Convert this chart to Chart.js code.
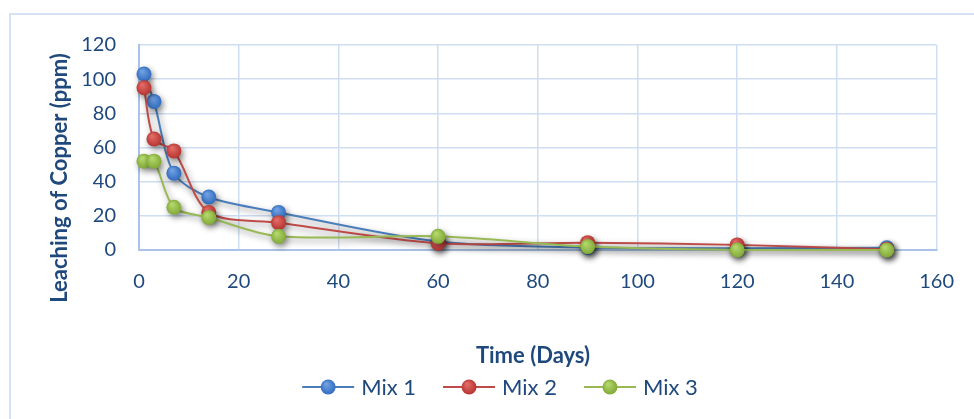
<!DOCTYPE html>
<html>
<head>
<meta charset="utf-8">
<script src="https://cdn.jsdelivr.net/npm/chart.js@4/dist/chart.umd.min.js"></script>
<style>
  html, body { margin: 0; padding: 0; background: #ffffff; }
  #wrap { width: 974px; height: 419px; position: relative; }
</style>
</head>
<body>
<div id="wrap"><canvas id="c" width="974" height="419"></canvas></div>
<script>
// Sampling days and copper leached (ppm) for each mix
const days = [1, 3, 7, 14, 28, 60, 90, 120, 150];
const mix1 = [103, 87, 45, 31, 22, 5, 1.5, 1, 1.3];
const mix2 = [95, 65, 58, 22, 16, 4, 4.3, 3, 0.5];
const mix3 = [52, 52, 25, 19, 8, 8, 2, 0, 0];

const seriesNames = ['Mix 1', 'Mix 2', 'Mix 3'];
const xTicks = [0, 20, 40, 60, 80, 100, 120, 140, 160];
const yTicks = [0, 20, 40, 60, 80, 100, 120];

const lineColors = ['#4a7ebb', '#be4b48', '#98b954'];
const dotColors = [['#6f9fe0', '#2f6abf'], ['#e06a66', '#b5322e'], ['#b2d66a', '#7fa735']];
const textColor = '#1f497d';
const gridColor = '#cfdef2';
const FONT = 'Lato, "Open Sans", sans-serif';

function dotFill(i) {
  return function (c) {
    const chart = c.chart;
    const p = c.parsed;
    if (!p || !chart.scales.x || !chart.scales.y) return dotColors[i][1];
    const x = chart.scales.x.getPixelForValue(p.x);
    const y = chart.scales.y.getPixelForValue(p.y);
    if (!isFinite(x) || !isFinite(y)) return dotColors[i][1];
    const g = chart.ctx.createRadialGradient(x - 2, y - 3, 1, x, y, 8);
    g.addColorStop(0, dotColors[i][0]);
    g.addColorStop(1, dotColors[i][1]);
    return g;
  };
}

function makeDataset(i, values) {
  return {
    label: seriesNames[i],
    data: days.map((d, k) => ({ x: d, y: values[k] })),
    borderColor: lineColors[i],
    borderWidth: 2,
    backgroundColor: dotColors[i][1],
    pointBackgroundColor: dotFill(i),
    pointBorderWidth: 0,
    pointRadius: 7.5,
    pointHoverRadius: 7.5,
    tension: 0.3,
    clip: false,
    order: 3 - i
  };
}

// Outer frame, soft drop shadow under the series, axis titles and legend
const decor = {
  id: 'decor',
  beforeDraw(chart) {
    const ctx = chart.ctx;
    ctx.save();
    ctx.strokeStyle = '#d7e3f4';
    ctx.lineWidth = 2;
    ctx.strokeRect(10, 14, 1000, 500);
    ctx.restore();
  },
  beforeDatasetsDraw(chart) {
    const ctx = chart.ctx;
    ctx.save();
    ctx.shadowColor = 'rgba(0,0,0,0.45)';
    ctx.shadowBlur = 6;
    ctx.shadowOffsetX = 2;
    ctx.shadowOffsetY = 3;
  },
  afterDatasetsDraw(chart) {
    chart.ctx.restore();
  },
  afterDraw(chart) {
    const ctx = chart.ctx;
    ctx.save();
    ctx.fillStyle = textColor;
    ctx.font = 'bold 22px ' + FONT;
    ctx.textAlign = 'center';
    ctx.textBaseline = 'middle';
    // y-axis title
    ctx.save();
    ctx.translate(60, 178);
    ctx.rotate(-Math.PI / 2);
    ctx.fillText('Leaching of Copper (ppm)', 0, 0);
    ctx.restore();
    // x-axis title
    ctx.fillText('Time (Days)', 533, 356);

    // legend
    ctx.font = '22px ' + FONT;
    const lineW = 52, gap = 7, between = 27;
    const items = chart.data.datasets.map((ds, i) => ({ i, label: ds.label, w: lineW + gap + ctx.measureText(ds.label).width }));
    const total = items.reduce((s, it) => s + it.w, 0) + between * (items.length - 1);
    let x = 500 - total / 2;
    const y = 387;
    items.forEach(it => {
      ctx.strokeStyle = lineColors[it.i];
      ctx.lineWidth = 2;
      ctx.beginPath();
      ctx.moveTo(x, y);
      ctx.lineTo(x + lineW, y);
      ctx.stroke();
      const g = ctx.createRadialGradient(x + lineW / 2 - 2, y - 3, 1, x + lineW / 2, y, 8);
      g.addColorStop(0, dotColors[it.i][0]);
      g.addColorStop(1, dotColors[it.i][1]);
      ctx.fillStyle = g;
      ctx.beginPath();
      ctx.arc(x + lineW / 2, y, 7.5, 0, Math.PI * 2);
      ctx.fill();
      ctx.fillStyle = textColor;
      ctx.textAlign = 'left';
      ctx.fillText(it.label, x + lineW + gap, y + 1);
      x += it.w + between;
    });
    ctx.restore();
  }
};

new Chart(document.getElementById('c'), {
  type: 'line',
  data: { datasets: [makeDataset(0, mix1), makeDataset(1, mix2), makeDataset(2, mix3)] },
  options: {
    responsive: false,
    animation: false,
    layout: { padding: { left: 0, top: 45, right: 35, bottom: 0 } },
    plugins: { legend: { display: false }, tooltip: { enabled: false } },
    scales: {
      x: {
        type: 'linear',
        min: xTicks[0],
        max: xTicks[xTicks.length - 1],
        afterBuildTicks(scale) { scale.ticks = xTicks.map(v => ({ value: v })); },
        afterFit(scale) { scale.height = 169; },
        grid: { color: gridColor, lineWidth: 1.5, drawTicks: false },
        border: { color: '#a9c4e8', width: 2 },
        ticks: { color: textColor, font: { family: FONT, size: 20 }, padding: 20, maxRotation: 0 }
      },
      y: {
        type: 'linear',
        min: yTicks[0],
        max: yTicks[yTicks.length - 1],
        afterBuildTicks(scale) { scale.ticks = yTicks.map(v => ({ value: v })); },
        afterFit(scale) { scale.width = 139; },
        grid: { color: gridColor, lineWidth: 1.5, drawTicks: false },
        border: { color: '#a9c4e8', width: 2 },
        ticks: { color: textColor, font: { family: FONT, size: 20 }, padding: 23 }
      }
    }
  },
  plugins: [decor]
});
</script>
</body>
</html>
